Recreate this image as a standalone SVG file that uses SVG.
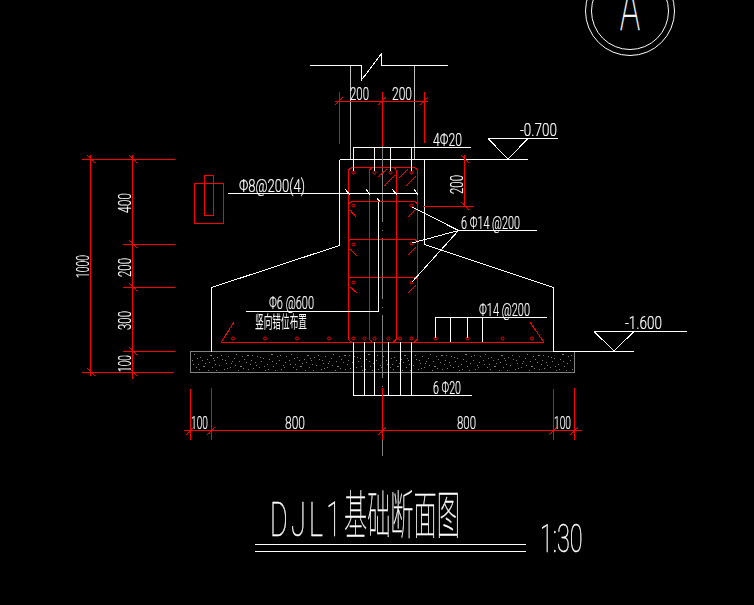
<svg xmlns="http://www.w3.org/2000/svg" width="754" height="605" viewBox="0 0 754 605">
<style>
path,rect{shape-rendering:crispEdges}
.w{fill:none;stroke:#fff;stroke-width:1}
.g{fill:none;stroke:#c0c0c0;stroke-width:1}
.a{fill:none;stroke:#808080;stroke-width:1}
.r{fill:none;stroke:#f00;stroke-width:1}
.t{font-family:Roboto,"Liberation Sans",sans-serif;font-weight:300;fill:#fff;font-size:19px;stroke:#fff;stroke-width:.2px}
.l{font-weight:100;stroke-width:.5px}
.c{font-family:"Noto Sans CJK SC",sans-serif;font-weight:100;fill:#fff;stroke:#fff;stroke-width:.3px}
#labels,#title,#axis-bubble{opacity:.995}
</style>
<defs>
<pattern id="specks" patternUnits="userSpaceOnUse" x="191" y="352" width="97" height="20">
<path stroke="#808080" stroke-width="1" fill="none" d="M3 2.500h1M9 5.500h1M14 11.500h1M5 15.500h1M19 3.500h2M23 8.500h1M28 13.500h1M33 17.500h1M17 18.500h1M37 4.500h1M41 9.500h1M45 2.500h1M49 14.500h2M53 7.500h1M57 17.500h1M61 3.500h1M64 10.500h1M68 15.500h1M72 6.500h1M76 12.500h1M80 2.500h2M84 18.500h1M88 8.500h1M92 13.500h1M95 4.500h1M11 8.500h1M26 5.500h1M35 11.500h1M47 18.500h1M59 12.500h1M70 9.500h1M82 14.500h1M90 17.500h1M7 12.500h1M21 15.500h1M39 15.500h1M43 6.500h1M55 10.500h1M66 4.500h1M78 7.500h1M31 7.500h1M1 8.500h1M94 10.500h1M74 18.500h1M51 4.500h1M25 18.500h1M62 16.500h1M86 4.500h1M16 7.500h1M6 6.500h1M12 14.500h2M18 10.500h1M24 12.500h1M30 3.500h1M36 16.500h1M40 11.500h1M44 13.500h1M48 9.500h1M52 16.500h1M56 3.500h2M60 8.500h1M65 13.500h1M69 5.500h1M73 14.500h1M77 17.500h1M81 9.500h1M85 11.500h1M89 3.500h1M93 15.500h1M2 12.500h1M8 17.500h1M22 6.500h1M34 8.500h1"/>
</pattern>
</defs>
<rect width="754" height="605" fill="#000"/>
<g id="axis-bubble">
<circle class="w" cx="630" cy="11" r="44.500"/>
<circle class="w" cx="630" cy="11" r="38.500"/>
<text class="t l" x="620" y="30" style="font-size:63px" textLength="20" lengthAdjust="spacingAndGlyphs">A</text>
</g>
<g id="footing-blinding">
<rect x="190.500" y="351.500" width="384" height="21" fill="url(#specks)" stroke="#808080"/>
</g>
<g id="section-outline">
<path class="w" d="M310 65.500H361.500V80L381.500 53.500V65.500H448"/>
<path class="g" d="M350.500 65.500V159M414.500 65.500V159"/>
<path class="w" d="M339.500 159.500H528M339.500 159.500V245.500L211.500 287.500V351.500M424.500 159.500V244.500L553.500 287.500V351.500H634"/>
<path class="a" d="M382.500 146V222M382.500 229.500V231M382.500 238V299M382.500 306.500V308M382.500 315V378M382.500 385.500V387M382.500 440V456"/>
</g>
<g id="elevations">
<path class="w" d="M488 138.500H558M488 138.500L508 159L528 138.500"/>
<path class="w" d="M594 331.500H687M594 331.500L614 351L634 331.500"/>
</g>
<g id="reinforcement">
<path class="r" d="M351 342.500L348.500 339V172Q348.500 167.500 353 167.500H412Q417.500 167.500 417.500 172V339L414 342.500"/>
<path class="r" d="M372 342.500L369.500 339V172Q369.500 167.500 374 167.500H391Q396.500 167.500 396.500 172V339L393 342.500"/>
<path class="r" d="M348.500 206Q348.500 201.500 353 201.500H412Q417.500 201.500 417.500 206M348.500 243Q348.500 239.500 352 239.500H413Q417.500 239.500 417.500 243M348.500 281Q348.500 277.500 352 277.500H413Q417.500 277.500 417.500 281"/>
<path class="r" d="M221 342.500H544M221 342.500L234 322M544 342.500L530 322"/>
<path class="r" d="M378 177L387 169M384 186L395 175M399 178L408 169M406 186L416 176M350 210L356 217M350 249L357 256M350 287L357 293M408 217L416 209M408 255L416 247M408 293L416 285"/>
<g fill="none" stroke="#f00">
<circle cx="353.500" cy="172.500" r="1.500"/><circle cx="374.500" cy="172.500" r="1.500"/><circle cx="390.500" cy="172.500" r="1.500"/><circle cx="411.500" cy="172.500" r="1.500"/>
<circle cx="353.500" cy="205.500" r="1.500"/><circle cx="411.500" cy="205.500" r="1.500"/><circle cx="353.500" cy="244.500" r="1.500"/><circle cx="411.500" cy="243.500" r="1.500"/><circle cx="353.500" cy="282.500" r="1.500"/><circle cx="411.500" cy="282.500" r="1.500"/>
<circle cx="233" cy="338.500" r="1.500"/><circle cx="265" cy="338.500" r="1.500"/><circle cx="297" cy="338.500" r="1.500"/><circle cx="329" cy="338.500" r="1.500"/><circle cx="353.500" cy="338.500" r="1.500"/><circle cx="364.500" cy="338.500" r="1.500"/><circle cx="374.500" cy="338.500" r="1.500"/><circle cx="388.500" cy="338.500" r="1.500"/><circle cx="400" cy="338.500" r="1.500"/><circle cx="411.500" cy="338.500" r="1.500"/><circle cx="435.500" cy="338.500" r="1.500"/><circle cx="467.500" cy="338.500" r="1.500"/><circle cx="502.500" cy="338.500" r="1.500"/><circle cx="532" cy="338.500" r="1.500"/>
</g>
</g>
<g id="leaders">
<path class="w" d="M471 147.500H353.500V171M374.500 147.500V171M390.500 147.500V171M411.500 147.500V171"/>
<path class="w" d="M228 193.500H416M345 189L350 195M366 189L370 195M392 189L397 195M414 189L418 195M377 198L380 202"/>
<path class="w" d="M246 311.500H378.500V202"/>
<path class="w" d="M537 230.500H458.500L412 207M458.500 230.500L412 243M458.500 230.500L412 282"/>
<path class="w" d="M547 317.500H435.500V338M450.500 317.500V342M467.500 317.500V338M482.500 317.500V342"/>
<path class="w" d="M353.500 342V395.500H472M364.500 342V395.500M374.500 342V395.500M388.500 342V395.500M400.500 342V395.500M411.500 342V395.500"/>
</g>
<g id="dimensions">
<path class="r" d="M335 101.500H428M339.500 92V144M382.500 92V146M424.500 92V143M335 105L343 97M378 105L386 97M420 105L428 97"/>
<path class="r" d="M464.500 155V207M423 206.500H474M461 155L469 163M461 202L469 210"/>
<path class="r" d="M90.500 155V376M132.500 155V379M82 159.500H175M123 244.500H175M123 287.500H175M123 351.500H175M82 372.500H174M87 155L95 163M129 155L137 163M129 240L137 248M129 283L137 291M129 347L137 355M87 368L95 376M129 368L137 376"/>
<path class="r" d="M184 430.500H582M190.500 389V440M211.500 388V440M382.500 388V440M553.500 389V440M574.500 388V440M186 435L194 427M207 435L215 427M378 435L386 427M549 435L557 427M570 435L578 427"/>
</g>
<g id="detail">
<rect class="r" x="194.500" y="183.500" width="29" height="40"/>
<rect class="r" x="204.500" y="175.500" width="9" height="40"/>
</g>
<g id="labels">
<text class="t" x="350" y="100" textLength="19" lengthAdjust="spacingAndGlyphs">200</text>
<text class="t" x="392" y="100" textLength="20" lengthAdjust="spacingAndGlyphs">200</text>
<text class="t" x="433" y="146" textLength="29" lengthAdjust="spacingAndGlyphs">4Φ20</text>
<text class="t" x="520" y="136" textLength="37" lengthAdjust="spacingAndGlyphs">-0.700</text>
<text class="t" x="625" y="329" textLength="37" lengthAdjust="spacingAndGlyphs">-1.600</text>
<text class="t" x="239" y="192" textLength="66" lengthAdjust="spacingAndGlyphs">Φ8@200(4)</text>
<text class="t" x="461" y="229" textLength="59" lengthAdjust="spacingAndGlyphs">6 Φ14 @200</text>
<text class="t" x="269" y="309" textLength="45" lengthAdjust="spacingAndGlyphs">Φ6 @600</text>
<text class="t" x="479" y="316" textLength="51" lengthAdjust="spacingAndGlyphs">Φ14 @200</text>
<text class="t" x="433" y="394" textLength="28" lengthAdjust="spacingAndGlyphs">6 Φ20</text>
<text class="c" transform="translate(255,328) scale(.51,1)" style="font-size:17px;font-weight:400;stroke-width:0">竖向错位布置</text>
<text class="t" x="191" y="429" textLength="17" lengthAdjust="spacingAndGlyphs">100</text>
<text class="t" x="285" y="429" textLength="20" lengthAdjust="spacingAndGlyphs">800</text>
<text class="t" x="457" y="429" textLength="19" lengthAdjust="spacingAndGlyphs">800</text>
<text class="t" x="554" y="429" textLength="17" lengthAdjust="spacingAndGlyphs">100</text>
<text class="t" transform="translate(89,278) rotate(-90)" textLength="23" lengthAdjust="spacingAndGlyphs">1000</text>
<text class="t" transform="translate(131,213) rotate(-90)" textLength="20" lengthAdjust="spacingAndGlyphs">400</text>
<text class="t" transform="translate(131,277) rotate(-90)" textLength="19" lengthAdjust="spacingAndGlyphs">200</text>
<text class="t" transform="translate(131,330) rotate(-90)" textLength="19" lengthAdjust="spacingAndGlyphs">300</text>
<text class="t" transform="translate(131,372) rotate(-90)" textLength="17" lengthAdjust="spacingAndGlyphs">100</text>
<text class="t" transform="translate(463,194) rotate(-90)" textLength="19" lengthAdjust="spacingAndGlyphs">200</text>
</g>
<g id="title">
<text class="t l" transform="translate(270,536) scale(.55,1)" style="font-size:49px;letter-spacing:6px">DJL1</text>
<text class="c" transform="translate(344,534) scale(.446,1)" style="font-size:52px">基础断面图</text>
<text class="t l" transform="translate(540,552) scale(.6,1)" style="font-size:39px">1:30</text>
<path class="w" d="M255 544.500H526M255 551.500H526"/>
</g>
</svg>
